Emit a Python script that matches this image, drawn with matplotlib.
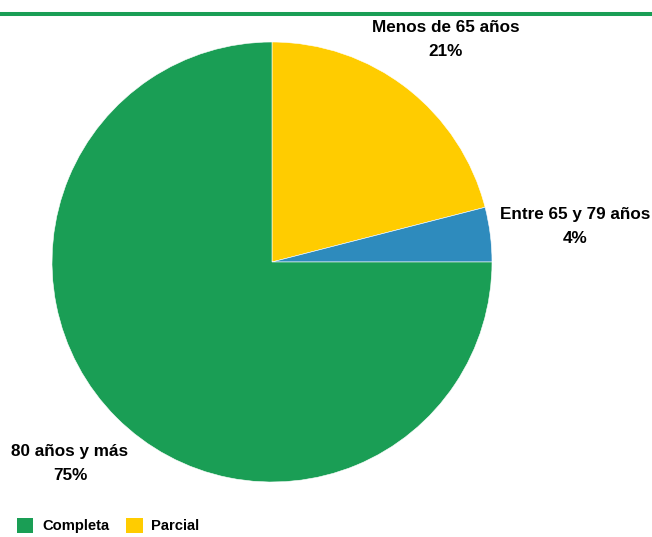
import matplotlib.pyplot as plt
from matplotlib.patches import Patch
from matplotlib.lines import Line2D

plt.rcParams['font.family'] = ['Liberation Sans', 'DejaVu Sans']

# datos
grupos = ['Menos de 65 años', 'Entre 65 y 79 años', '80 años y más']
porcentajes = [21, 4, 75]
colores = ['#ffcc00', '#2e8bbd', '#1a9e55']
leyenda = ['Completa', 'Parcial']
colores_leyenda = ['#1a9e55', '#ffcc00']

fig = plt.figure(figsize=(6.52, 5.37), dpi=100)

# linea verde superior
fig.add_artist(Line2D([0, 1], [1 - 14 / 537, 1 - 14 / 537],
                      color='#1a9e55', linewidth=2.9, transform=fig.transFigure))

cx, cy, r = 272, 262, 220
ax = fig.add_axes([(cx - r) / 652, (537 - cy - r) / 537, 2 * r / 652, 2 * r / 537])
ax.pie(porcentajes, colors=colores, startangle=90, counterclock=False,
       radius=1, wedgeprops=dict(edgecolor='white', linewidth=0.4))
ax.set_xlim(-1, 1)
ax.set_ylim(-1, 1)
ax.set_aspect('equal')
ax.axis('off')

# etiquetas
pos = [(0.79, 1.01), (1.377, 0.16), (-0.918, -0.915)]
for g, p, (x, y) in zip(grupos, porcentajes, pos):
    ax.text(x, y, f'{g}\n{p}%', ha='center', va='center', fontsize=12.3,
            fontweight='bold', linespacing=1.72, clip_on=False)

handles = [Patch(facecolor=c, edgecolor='none') for c in colores_leyenda]
fig.legend(handles, leyenda, loc='lower left', bbox_to_anchor=(0.005, -0.018),
           ncol=2, frameon=False, prop={'weight': 'bold', 'size': 10.6},
           handlelength=1.15, handleheight=1.15, columnspacing=1.1, handletextpad=0.6)

plt.savefig('out.png', dpi=100)
